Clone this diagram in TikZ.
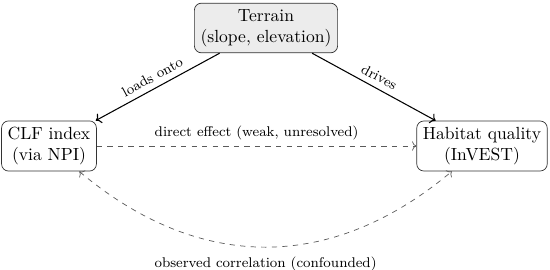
\documentclass[tikz,border=0pt]{standalone}
\usepackage{amsmath,amssymb}
\usepackage{tikz}
\usetikzlibrary{arrows.meta,positioning,calc}
\definecolor{boxgray}{RGB}{236,236,236}
\definecolor{linegray}{RGB}{90,90,90}

\begin{document}
\begin{tikzpicture}[
    varbox/.style={draw=black!80,rounded corners,align=center,inner sep=3.5pt},
    lbl/.style={font=\footnotesize}
  ]
  \useasboundingbox (0,0) rectangle (11,5.4);
  \node[varbox,fill=boxgray] (t) at (5.32,4.84) {Terrain\\(slope, elevation)};
  \node[varbox] (c) at (0.98,2.48) {CLF index\\(via NPI)};
  \node[varbox] (h) at (9.64,2.48) {Habitat quality\\(InVEST)};
  \draw[->,semithick] (t) -- node[lbl,sloped,above] {loads onto} (c);
  \draw[->,semithick] (t) -- node[lbl,sloped,above] {drives} (h);
  \draw[->,dashed,linegray] (c) -- node[lbl,above,text=black] {direct effect (weak, unresolved)} (h);
  \draw[<->,dashed,linegray] (c) to[bend right=40,looseness=1.08]
    node[lbl,below=2pt,text=black] {observed correlation (confounded)} (h);
\end{tikzpicture}
\end{document}
